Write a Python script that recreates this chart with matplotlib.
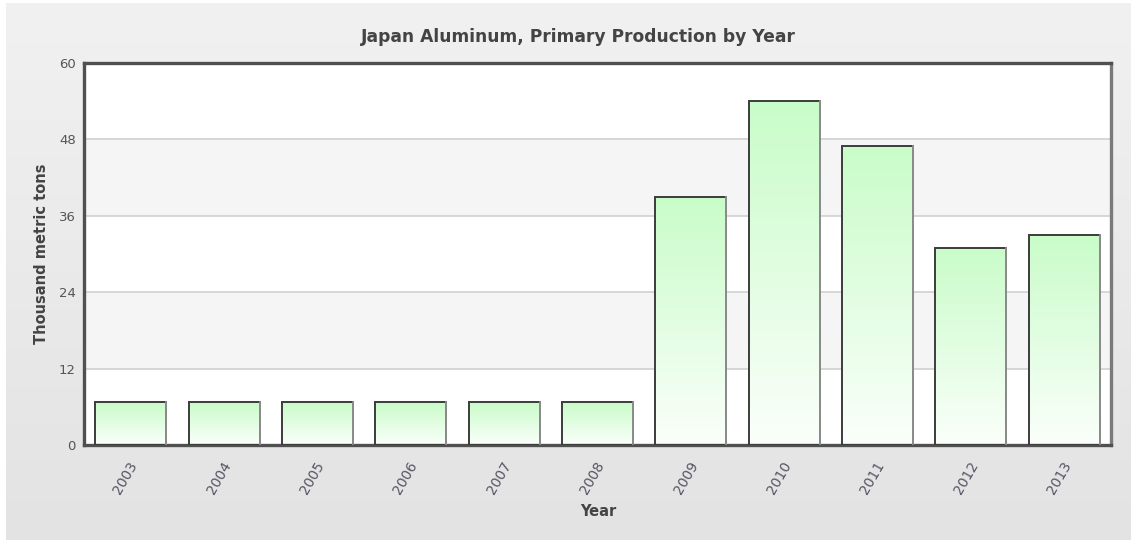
import numpy as np
import matplotlib
matplotlib.use("Agg")
import matplotlib.pyplot as plt
import matplotlib.transforms as mtransforms
from matplotlib.patches import Rectangle
from matplotlib.colors import LinearSegmentedColormap

years = ["2003", "2004", "2005", "2006", "2007", "2008",
         "2009", "2010", "2011", "2012", "2013"]
production = [6.7, 6.7, 6.7, 6.7, 6.7, 6.7, 39, 54, 47, 31, 33]
y_ticks = [0, 12, 24, 36, 48, 60]

fig = plt.figure(figsize=(11.31, 5.42), dpi=100)
fig.patch.set_facecolor("white")
W, H = 1131, 542

# grey panel behind everything, fading slightly darker towards the bottom
bg = fig.add_axes([6 / W, 2 / H, 1 - 6 / W, 1 - 5 / H], zorder=-10)
bg.imshow(np.linspace(0, 1, 256).reshape(-1, 1),
          cmap=LinearSegmentedColormap.from_list("bg", ["#f1f1f1", "#e3e3e3"]),
          aspect="auto", extent=(0, 1, 0, 1), origin="upper")
bg.set_axis_off()

left, right, top, bottom = 84, 1111, 63, 445
ax = fig.add_axes([left / W, 1 - bottom / H, (right - left) / W, (bottom - top) / H])

# alternating horizontal bands
for i, (lo, hi) in enumerate(zip(y_ticks[:-1], y_ticks[1:])):
    ax.axhspan(lo, hi, color="white" if i % 2 == 0 else "#f5f5f5", zorder=0, lw=0)
for t in y_ticks[1:-1]:
    ax.axhline(t, color="#cdcdcd", lw=1.1, zorder=1)

grad = LinearSegmentedColormap.from_list("bar", ["#fbfffb", "#c9fcc9"])
bar_w = 0.76
for i, v in enumerate(production):
    x0 = i - bar_w / 2
    im = ax.imshow(np.linspace(0, 1, 256).reshape(-1, 1), cmap=grad,
                   aspect="auto", extent=(x0, x0 + bar_w, 0, v),
                   origin="lower", zorder=2)
    rect = Rectangle((x0, 0), bar_w, v, facecolor="none",
                     edgecolor="#3c3c3c", lw=1.4, zorder=3)
    ax.add_patch(rect)
    im.set_clip_path(rect)
    # lighter right-hand edge
    ax.plot([x0 + bar_w, x0 + bar_w], [0, v], color="#9a9a9a", lw=1.2, zorder=3)

ax.set_xlim(-0.5, len(years) - 0.5)
ax.set_ylim(0, 60)

for side in ["left", "top", "bottom"]:
    ax.spines[side].set_color("#505050")
    ax.spines[side].set_linewidth(2.4)
ax.spines["right"].set_color("#7a7a7a")
ax.spines["right"].set_linewidth(2.4)

ax.set_yticks(y_ticks)
ax.set_yticklabels([str(t) for t in y_ticks], fontsize=9.5, color="#555555")
ax.set_xticks(range(len(years)))
ax.set_xticklabels(years, rotation=60, fontsize=10, color="#555566",
                   ha="center", va="top")
ax.tick_params(length=0, pad=6)
ax.tick_params(axis="x", pad=10)
# nudge the slanted year labels a little to the left of their ticks
shift = mtransforms.ScaledTranslation(-5 / 100, 0, fig.dpi_scale_trans)
for lbl in ax.get_xticklabels():
    lbl.set_transform(lbl.get_transform() + shift)

ax.set_ylabel("Thousand metric tons", fontsize=10.5, fontweight="bold",
              color="#444444", labelpad=7)
fig.text(598 / W, 1 - 512 / H, "Year", ha="center", va="center",
         fontsize=10.5, fontweight="bold", color="#444444")
fig.text(578 / W, 1 - 37 / H, "Japan Aluminum, Primary Production by Year",
         ha="center", va="center", fontsize=12.3, fontweight="bold", color="#444444")

fig.savefig("out.png", dpi=100)
